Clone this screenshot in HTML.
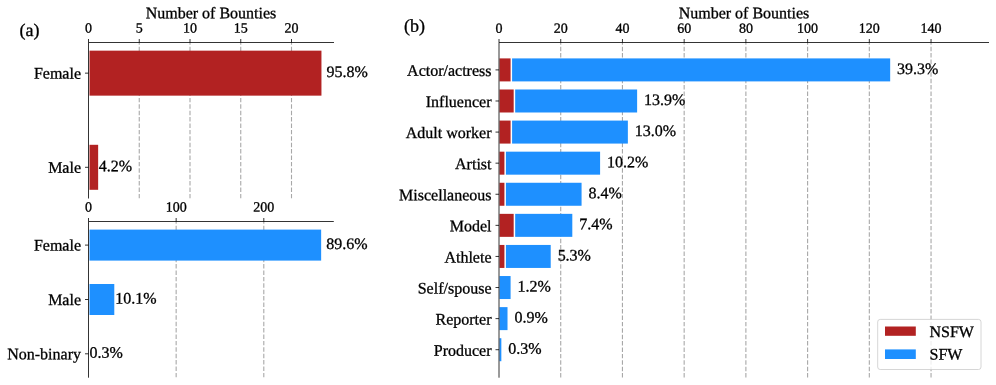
<!DOCTYPE html>
<html><head><meta charset="utf-8"><style>
html,body{margin:0;padding:0;background:#fff;}
svg{display:block;will-change:transform;}
text{font-family:"Liberation Serif", serif;fill:#000;text-rendering:geometricPrecision;stroke:#000;stroke-width:0.3px;}
</style></head><body>
<svg width="996" height="385" viewBox="0 0 996 385">
<rect width="996" height="385" fill="#fff"/>
<line x1="139.25" y1="42.50" x2="139.25" y2="198.50" stroke="#a8a8a8" stroke-width="1.1" stroke-dasharray="4.45 1.95" stroke-dashoffset="2.2"/>
<line x1="190.00" y1="42.50" x2="190.00" y2="198.50" stroke="#a8a8a8" stroke-width="1.1" stroke-dasharray="4.45 1.95" stroke-dashoffset="2.2"/>
<line x1="240.75" y1="42.50" x2="240.75" y2="198.50" stroke="#a8a8a8" stroke-width="1.1" stroke-dasharray="4.45 1.95" stroke-dashoffset="2.2"/>
<line x1="291.50" y1="42.50" x2="291.50" y2="198.50" stroke="#a8a8a8" stroke-width="1.1" stroke-dasharray="4.45 1.95" stroke-dashoffset="2.2"/>
<rect x="89.50" y="50.65" width="231.95" height="45.00" fill="#b22222"/>
<rect x="89.50" y="144.80" width="8.65" height="45.00" fill="#b22222"/>
<line x1="88.50" y1="42.50" x2="88.50" y2="198.50" stroke="#000" stroke-width="0.8" />
<line x1="88.50" y1="42.50" x2="334.00" y2="42.50" stroke="#000" stroke-width="0.8" />
<line x1="88.50" y1="42.50" x2="88.50" y2="39.00" stroke="#000" stroke-width="0.8" />
<line x1="139.25" y1="42.50" x2="139.25" y2="39.00" stroke="#000" stroke-width="0.8" />
<line x1="190.00" y1="42.50" x2="190.00" y2="39.00" stroke="#000" stroke-width="0.8" />
<line x1="240.75" y1="42.50" x2="240.75" y2="39.00" stroke="#000" stroke-width="0.8" />
<line x1="291.50" y1="42.50" x2="291.50" y2="39.00" stroke="#000" stroke-width="0.8" />
<line x1="85.00" y1="73.15" x2="88.50" y2="73.15" stroke="#000" stroke-width="0.8" />
<line x1="85.00" y1="167.30" x2="88.50" y2="167.30" stroke="#000" stroke-width="0.8" />
<line x1="176.15" y1="221.50" x2="176.15" y2="377.70" stroke="#a8a8a8" stroke-width="1.1" stroke-dasharray="4.45 1.95" stroke-dashoffset="2.2"/>
<line x1="263.80" y1="221.50" x2="263.80" y2="377.70" stroke="#a8a8a8" stroke-width="1.1" stroke-dasharray="4.45 1.95" stroke-dashoffset="2.2"/>
<rect x="89.50" y="229.60" width="231.65" height="31.00" fill="#1e90ff"/>
<rect x="89.50" y="284.00" width="24.79" height="31.00" fill="#1e90ff"/>
<line x1="88.50" y1="221.50" x2="88.50" y2="377.70" stroke="#000" stroke-width="0.8" />
<line x1="88.50" y1="221.50" x2="333.80" y2="221.50" stroke="#000" stroke-width="0.8" />
<line x1="88.50" y1="221.50" x2="88.50" y2="218.00" stroke="#000" stroke-width="0.8" />
<line x1="176.15" y1="221.50" x2="176.15" y2="218.00" stroke="#000" stroke-width="0.8" />
<line x1="263.80" y1="221.50" x2="263.80" y2="218.00" stroke="#000" stroke-width="0.8" />
<line x1="85.00" y1="245.10" x2="88.50" y2="245.10" stroke="#000" stroke-width="0.8" />
<line x1="85.00" y1="299.50" x2="88.50" y2="299.50" stroke="#000" stroke-width="0.8" />
<line x1="85.00" y1="353.80" x2="88.50" y2="353.80" stroke="#000" stroke-width="0.8" />
<line x1="560.72" y1="42.50" x2="560.72" y2="377.70" stroke="#a8a8a8" stroke-width="1.1" stroke-dasharray="4.45 1.95" stroke-dashoffset="2.2"/>
<line x1="622.44" y1="42.50" x2="622.44" y2="377.70" stroke="#a8a8a8" stroke-width="1.1" stroke-dasharray="4.45 1.95" stroke-dashoffset="2.2"/>
<line x1="684.16" y1="42.50" x2="684.16" y2="377.70" stroke="#a8a8a8" stroke-width="1.1" stroke-dasharray="4.45 1.95" stroke-dashoffset="2.2"/>
<line x1="745.88" y1="42.50" x2="745.88" y2="377.70" stroke="#a8a8a8" stroke-width="1.1" stroke-dasharray="4.45 1.95" stroke-dashoffset="2.2"/>
<line x1="807.60" y1="42.50" x2="807.60" y2="377.70" stroke="#a8a8a8" stroke-width="1.1" stroke-dasharray="4.45 1.95" stroke-dashoffset="2.2"/>
<line x1="869.32" y1="42.50" x2="869.32" y2="377.70" stroke="#a8a8a8" stroke-width="1.1" stroke-dasharray="4.45 1.95" stroke-dashoffset="2.2"/>
<line x1="931.04" y1="42.50" x2="931.04" y2="377.70" stroke="#a8a8a8" stroke-width="1.1" stroke-dasharray="4.45 1.95" stroke-dashoffset="2.2"/>
<rect x="499.50" y="58.40" width="11.09" height="23.00" fill="#b22222"/>
<rect x="512.09" y="58.40" width="378.08" height="23.00" fill="#1e90ff"/>
<rect x="499.50" y="89.49" width="14.18" height="23.00" fill="#b22222"/>
<rect x="515.18" y="89.49" width="121.94" height="23.00" fill="#1e90ff"/>
<rect x="499.50" y="120.58" width="11.09" height="23.00" fill="#b22222"/>
<rect x="512.09" y="120.58" width="115.77" height="23.00" fill="#1e90ff"/>
<rect x="499.50" y="151.67" width="4.92" height="23.00" fill="#b22222"/>
<rect x="505.92" y="151.67" width="94.17" height="23.00" fill="#1e90ff"/>
<rect x="499.50" y="182.76" width="4.92" height="23.00" fill="#b22222"/>
<rect x="505.92" y="182.76" width="75.65" height="23.00" fill="#1e90ff"/>
<rect x="499.50" y="213.85" width="14.18" height="23.00" fill="#b22222"/>
<rect x="515.18" y="213.85" width="57.13" height="23.00" fill="#1e90ff"/>
<rect x="499.50" y="244.94" width="4.92" height="23.00" fill="#b22222"/>
<rect x="505.92" y="244.94" width="44.79" height="23.00" fill="#1e90ff"/>
<rect x="499.50" y="276.03" width="11.09" height="23.00" fill="#1e90ff"/>
<rect x="499.50" y="307.12" width="8.01" height="23.00" fill="#1e90ff"/>
<rect x="499.50" y="338.21" width="1.84" height="23.00" fill="#1e90ff"/>
<line x1="499.00" y1="42.50" x2="499.00" y2="377.70" stroke="#000" stroke-width="0.8" />
<line x1="499.00" y1="42.50" x2="989.00" y2="42.50" stroke="#000" stroke-width="0.8" />
<line x1="499.00" y1="42.50" x2="499.00" y2="39.00" stroke="#000" stroke-width="0.8" />
<line x1="560.72" y1="42.50" x2="560.72" y2="39.00" stroke="#000" stroke-width="0.8" />
<line x1="622.44" y1="42.50" x2="622.44" y2="39.00" stroke="#000" stroke-width="0.8" />
<line x1="684.16" y1="42.50" x2="684.16" y2="39.00" stroke="#000" stroke-width="0.8" />
<line x1="745.88" y1="42.50" x2="745.88" y2="39.00" stroke="#000" stroke-width="0.8" />
<line x1="807.60" y1="42.50" x2="807.60" y2="39.00" stroke="#000" stroke-width="0.8" />
<line x1="869.32" y1="42.50" x2="869.32" y2="39.00" stroke="#000" stroke-width="0.8" />
<line x1="931.04" y1="42.50" x2="931.04" y2="39.00" stroke="#000" stroke-width="0.8" />
<line x1="495.50" y1="69.90" x2="499.00" y2="69.90" stroke="#000" stroke-width="0.8" />
<line x1="495.50" y1="100.99" x2="499.00" y2="100.99" stroke="#000" stroke-width="0.8" />
<line x1="495.50" y1="132.08" x2="499.00" y2="132.08" stroke="#000" stroke-width="0.8" />
<line x1="495.50" y1="163.17" x2="499.00" y2="163.17" stroke="#000" stroke-width="0.8" />
<line x1="495.50" y1="194.26" x2="499.00" y2="194.26" stroke="#000" stroke-width="0.8" />
<line x1="495.50" y1="225.35" x2="499.00" y2="225.35" stroke="#000" stroke-width="0.8" />
<line x1="495.50" y1="256.44" x2="499.00" y2="256.44" stroke="#000" stroke-width="0.8" />
<line x1="495.50" y1="287.53" x2="499.00" y2="287.53" stroke="#000" stroke-width="0.8" />
<line x1="495.50" y1="318.62" x2="499.00" y2="318.62" stroke="#000" stroke-width="0.8" />
<line x1="495.50" y1="349.71" x2="499.00" y2="349.71" stroke="#000" stroke-width="0.8" />
<rect x="877.7" y="319.4" width="103.3" height="50.1" rx="2.5" ry="2.5" fill="#fff" fill-opacity="0.8" stroke="#cccccc" stroke-width="0.8"/>
<rect x="885.00" y="326.50" width="30.80" height="9.30" fill="#b22222"/>
<rect x="885.00" y="349.40" width="30.80" height="9.60" fill="#1e90ff"/>
<g>
<text x="326.62" y="77.05" font-size="16" text-anchor="start" transform="rotate(0.05 326.62 77.05)">95.8%</text>
<text x="98.85" y="171.20" font-size="16" text-anchor="start" transform="rotate(0.05 98.85 171.20)">4.2%</text>
<text x="88.50" y="32.50" font-size="14" text-anchor="middle" transform="rotate(0.05 88.50 32.50)">0</text>
<text x="139.25" y="32.50" font-size="14" text-anchor="middle" transform="rotate(0.05 139.25 32.50)">5</text>
<text x="190.00" y="32.50" font-size="14" text-anchor="middle" transform="rotate(0.05 190.00 32.50)">10</text>
<text x="240.75" y="32.50" font-size="14" text-anchor="middle" transform="rotate(0.05 240.75 32.50)">15</text>
<text x="291.50" y="32.50" font-size="14" text-anchor="middle" transform="rotate(0.05 291.50 32.50)">20</text>
<text x="81.00" y="78.65" font-size="16" text-anchor="end" transform="rotate(0.05 81.00 78.65)">Female</text>
<text x="81.00" y="172.80" font-size="16" text-anchor="end" transform="rotate(0.05 81.00 172.80)">Male</text>
<text x="326.31" y="249.00" font-size="16" text-anchor="start" transform="rotate(0.05 326.31 249.00)">89.6%</text>
<text x="115.32" y="303.40" font-size="16" text-anchor="start" transform="rotate(0.05 115.32 303.40)">10.1%</text>
<text x="89.39" y="357.70" font-size="16" text-anchor="start" transform="rotate(0.05 89.39 357.70)">0.3%</text>
<text x="88.50" y="211.60" font-size="14" text-anchor="middle" transform="rotate(0.05 88.50 211.60)">0</text>
<text x="176.15" y="211.60" font-size="14" text-anchor="middle" transform="rotate(0.05 176.15 211.60)">100</text>
<text x="263.80" y="211.60" font-size="14" text-anchor="middle" transform="rotate(0.05 263.80 211.60)">200</text>
<text x="81.00" y="250.60" font-size="16" text-anchor="end" transform="rotate(0.05 81.00 250.60)">Female</text>
<text x="81.00" y="305.00" font-size="16" text-anchor="end" transform="rotate(0.05 81.00 305.00)">Male</text>
<text x="81.00" y="359.30" font-size="16" text-anchor="end" transform="rotate(0.05 81.00 359.30)">Non-binary</text>
<text x="211.00" y="18.20" font-size="16" text-anchor="middle" transform="rotate(0.05 211.00 18.20)">Number of Bounties</text>
<text x="19.50" y="36.00" font-size="18" text-anchor="start" transform="rotate(0.05 19.50 36.00)">(a)</text>
<text x="897.09" y="73.90" font-size="16" text-anchor="start" transform="rotate(0.05 897.09 73.90)">39.3%</text>
<text x="644.04" y="104.99" font-size="16" text-anchor="start" transform="rotate(0.05 644.04 104.99)">13.9%</text>
<text x="634.78" y="136.08" font-size="16" text-anchor="start" transform="rotate(0.05 634.78 136.08)">13.0%</text>
<text x="607.01" y="167.17" font-size="16" text-anchor="start" transform="rotate(0.05 607.01 167.17)">10.2%</text>
<text x="588.49" y="198.26" font-size="16" text-anchor="start" transform="rotate(0.05 588.49 198.26)">8.4%</text>
<text x="579.24" y="229.35" font-size="16" text-anchor="start" transform="rotate(0.05 579.24 229.35)">7.4%</text>
<text x="557.63" y="260.44" font-size="16" text-anchor="start" transform="rotate(0.05 557.63 260.44)">5.3%</text>
<text x="517.52" y="291.53" font-size="16" text-anchor="start" transform="rotate(0.05 517.52 291.53)">1.2%</text>
<text x="514.43" y="322.62" font-size="16" text-anchor="start" transform="rotate(0.05 514.43 322.62)">0.9%</text>
<text x="508.26" y="353.71" font-size="16" text-anchor="start" transform="rotate(0.05 508.26 353.71)">0.3%</text>
<text x="499.00" y="32.80" font-size="14" text-anchor="middle" transform="rotate(0.05 499.00 32.80)">0</text>
<text x="560.72" y="32.80" font-size="14" text-anchor="middle" transform="rotate(0.05 560.72 32.80)">20</text>
<text x="622.44" y="32.80" font-size="14" text-anchor="middle" transform="rotate(0.05 622.44 32.80)">40</text>
<text x="684.16" y="32.80" font-size="14" text-anchor="middle" transform="rotate(0.05 684.16 32.80)">60</text>
<text x="745.88" y="32.80" font-size="14" text-anchor="middle" transform="rotate(0.05 745.88 32.80)">80</text>
<text x="807.60" y="32.80" font-size="14" text-anchor="middle" transform="rotate(0.05 807.60 32.80)">100</text>
<text x="869.32" y="32.80" font-size="14" text-anchor="middle" transform="rotate(0.05 869.32 32.80)">120</text>
<text x="931.04" y="32.80" font-size="14" text-anchor="middle" transform="rotate(0.05 931.04 32.80)">140</text>
<text x="491.50" y="75.90" font-size="16" text-anchor="end" transform="rotate(0.05 491.50 75.90)">Actor/actress</text>
<text x="491.50" y="106.99" font-size="16" text-anchor="end" transform="rotate(0.05 491.50 106.99)">Influencer</text>
<text x="491.50" y="138.08" font-size="16" text-anchor="end" transform="rotate(0.05 491.50 138.08)">Adult worker</text>
<text x="491.50" y="169.17" font-size="16" text-anchor="end" transform="rotate(0.05 491.50 169.17)">Artist</text>
<text x="491.50" y="200.26" font-size="16" text-anchor="end" transform="rotate(0.05 491.50 200.26)">Miscellaneous</text>
<text x="491.50" y="231.35" font-size="16" text-anchor="end" transform="rotate(0.05 491.50 231.35)">Model</text>
<text x="491.50" y="262.44" font-size="16" text-anchor="end" transform="rotate(0.05 491.50 262.44)">Athlete</text>
<text x="491.50" y="293.53" font-size="16" text-anchor="end" transform="rotate(0.05 491.50 293.53)">Self/spouse</text>
<text x="491.50" y="324.62" font-size="16" text-anchor="end" transform="rotate(0.05 491.50 324.62)">Reporter</text>
<text x="491.50" y="355.71" font-size="16" text-anchor="end" transform="rotate(0.05 491.50 355.71)">Producer</text>
<text x="744.00" y="18.20" font-size="16" text-anchor="middle" transform="rotate(0.05 744.00 18.20)">Number of Bounties</text>
<text x="404.00" y="31.80" font-size="18" text-anchor="start" transform="rotate(0.05 404.00 31.80)">(b)</text>
<text x="929.50" y="336.90" font-size="16" text-anchor="start" transform="rotate(0.05 929.50 336.90)">NSFW</text>
<text x="929.50" y="359.50" font-size="16" text-anchor="start" transform="rotate(0.05 929.50 359.50)">SFW</text>
</g>
</svg>
</body></html>
